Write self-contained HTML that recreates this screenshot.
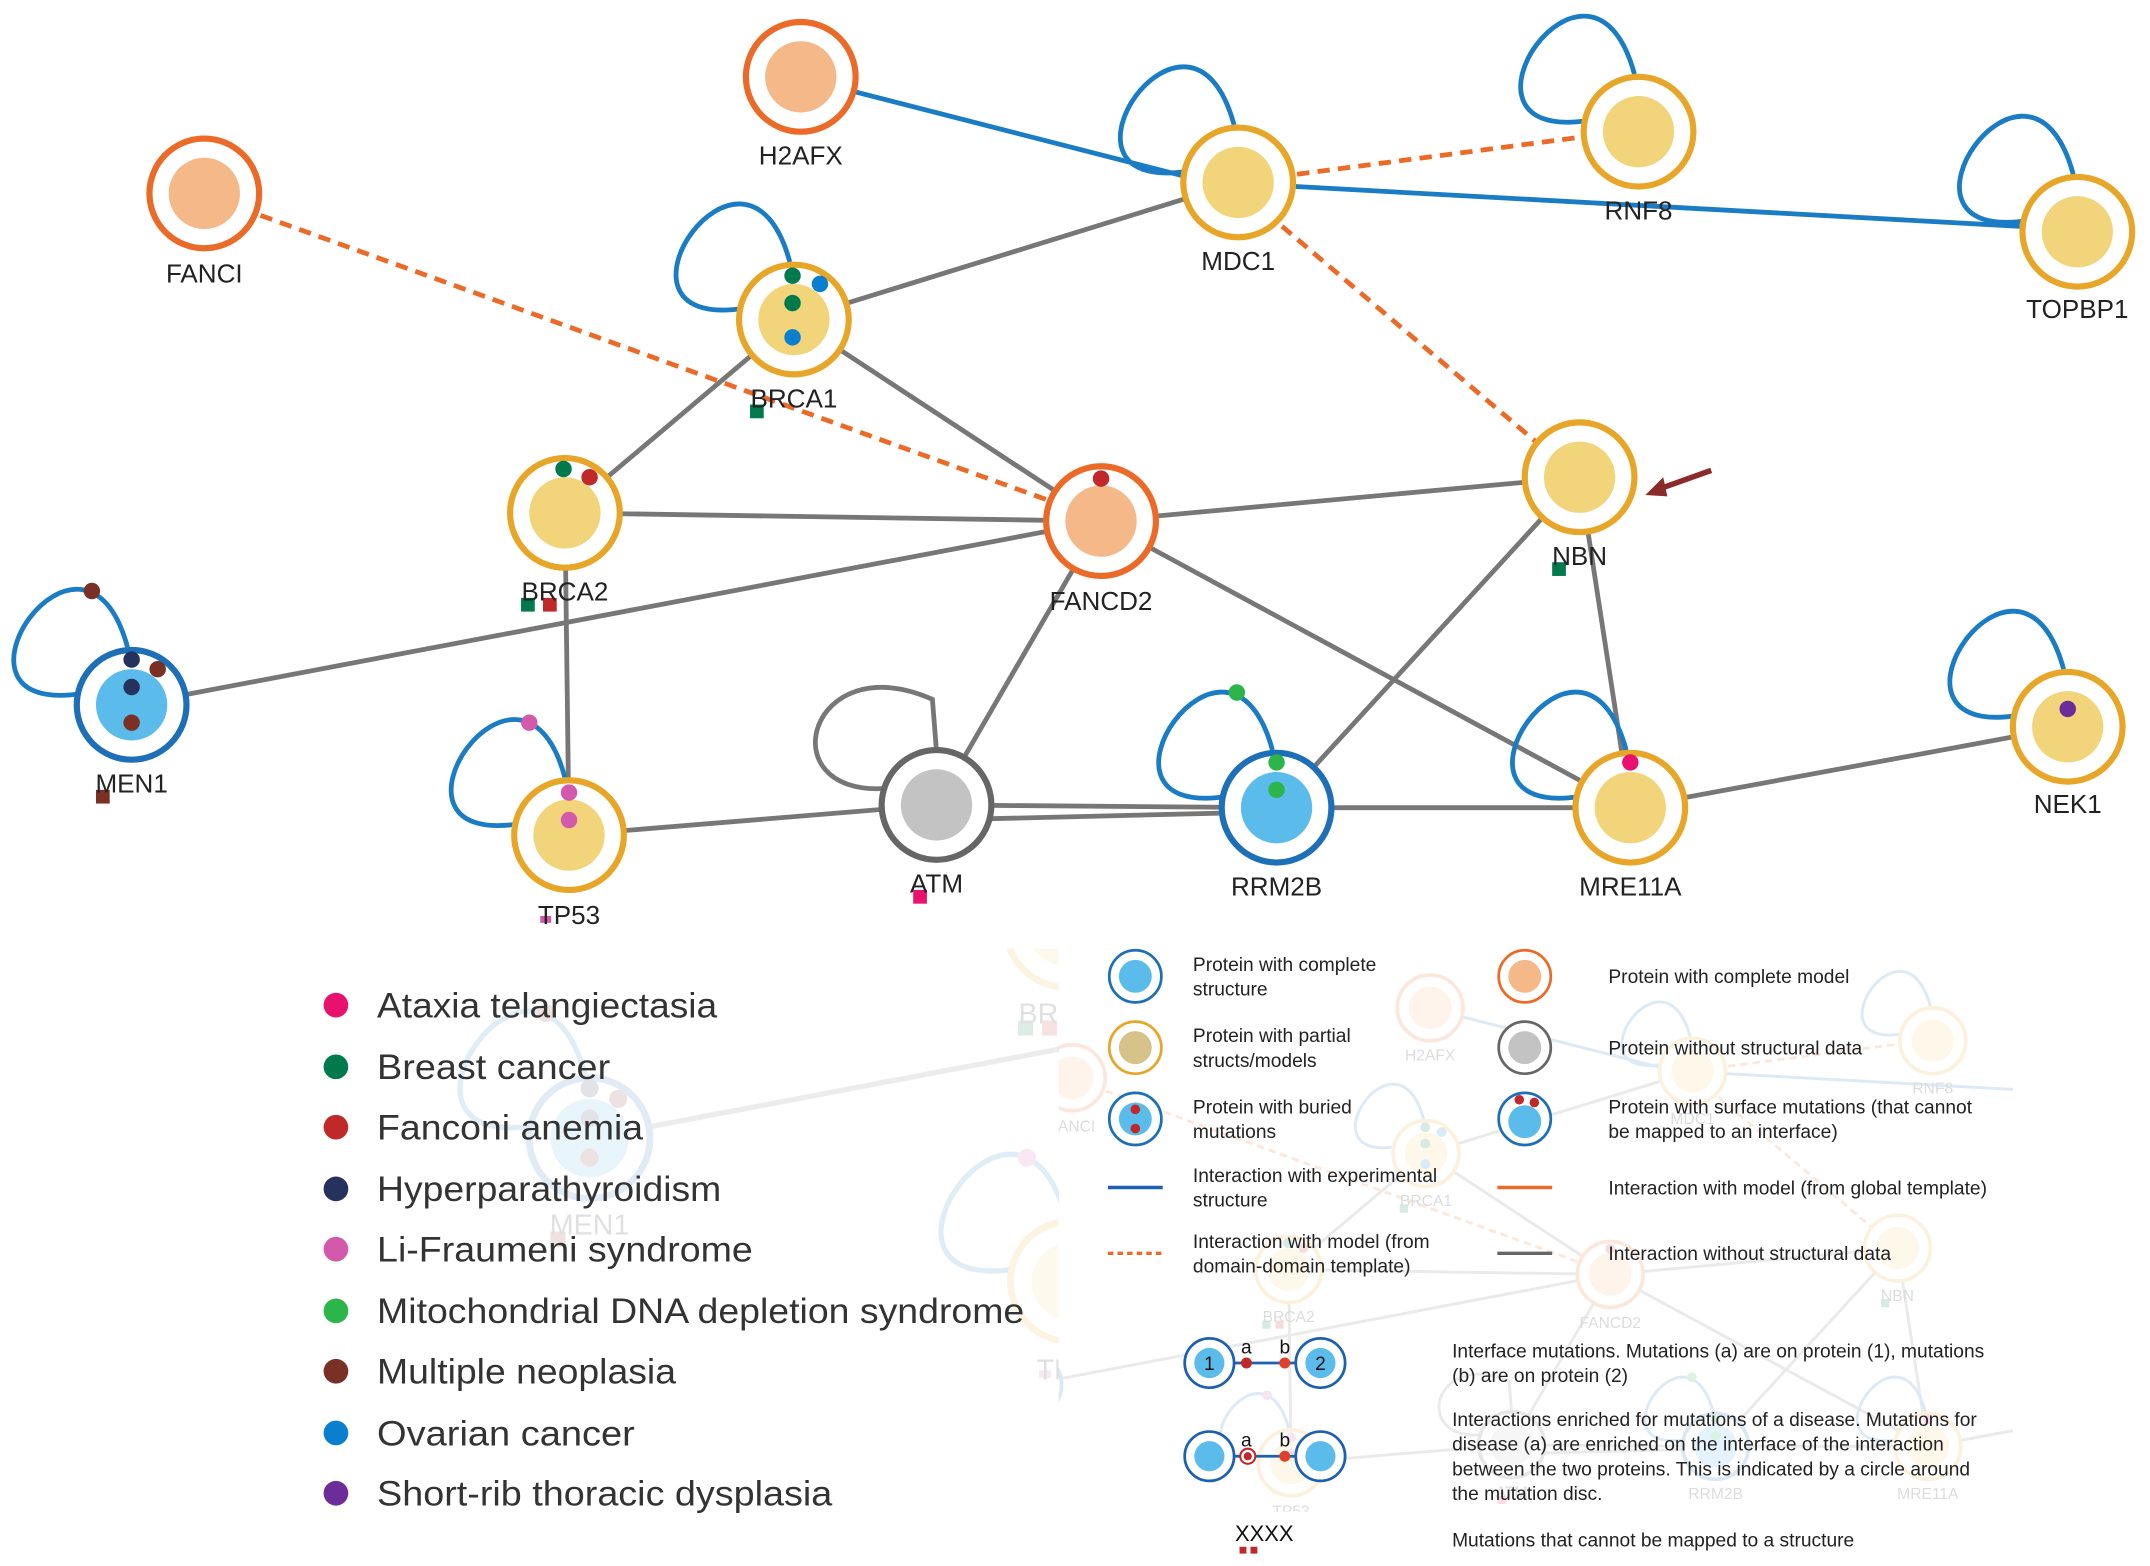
<!DOCTYPE html>
<html><head><meta charset="utf-8"><style>
html,body{margin:0;padding:0;background:#fff;}
svg{display:block;}
text{font-family:"Liberation Sans",Arial,sans-serif;}
</style></head><body>
<svg width="2150" height="1566" viewBox="0 0 1568 1142" xmlns="http://www.w3.org/2000/svg">
<defs>
<g id="loop"><path d="M-38,-8 C-150,8 -35,-160 -3,-42" fill="none" stroke="#1a7cc4" stroke-width="3.5"/></g>
<clipPath id="cl"><rect x="0" y="692" width="772" height="450"/></clipPath>
<clipPath id="cr"><rect x="772" y="692" width="696" height="410"/></clipPath>
<g id="net">
<g stroke="#777" stroke-width="3.5" fill="none">
<line x1="579" y1="233" x2="903" y2="133"/>
<line x1="579" y1="233" x2="412" y2="374"/>
<line x1="579" y1="233" x2="803" y2="380"/>
<line x1="412" y1="374" x2="803" y2="380"/>
<line x1="803" y1="380" x2="1152" y2="348"/>
<line x1="803" y1="380" x2="96" y2="514"/>
<line x1="412" y1="374" x2="415" y2="609"/>
<line x1="415" y1="609" x2="683" y2="587"/>
<line x1="683" y1="587" x2="803" y2="380"/>
<line x1="683" y1="587" x2="931" y2="589"/>
<line x1="683" y1="598" x2="931" y2="592"/>
<line x1="803" y1="380" x2="1189" y2="589"/>
<line x1="1152" y1="348" x2="931" y2="589"/>
<line x1="1152" y1="348" x2="1189" y2="589"/>
<line x1="931" y1="589" x2="1189" y2="589"/>
<line x1="1189" y1="589" x2="1508" y2="530"/>
<path d="M645,575 C560,580 590,470 680,510 L683,548"/>
</g>
<g stroke="#1a7cc4" stroke-width="3.5" fill="none">
<line x1="620" y1="66" x2="862" y2="128"/>
<line x1="945" y1="136" x2="1473" y2="165"/>
</g>
<g stroke="#ec6a28" stroke-width="3.5" stroke-dasharray="9,6" fill="none">
<line x1="190" y1="157" x2="765" y2="365"/>
<line x1="946" y1="127" x2="1153" y2="100"/>
<line x1="935" y1="165" x2="1120" y2="322"/>
</g>
<use href="#loop" transform="translate(903,133)"/>
<use href="#loop" transform="translate(1195,96)"/>
<use href="#loop" transform="translate(1515,169)"/>
<use href="#loop" transform="translate(579,233)"/>
<use href="#loop" transform="translate(96,514)"/>
<use href="#loop" transform="translate(415,609)"/>
<use href="#loop" transform="translate(931,589)"/>
<use href="#loop" transform="translate(1189,589)"/>
<use href="#loop" transform="translate(1508,530)"/>
<g stroke-width="4.5">
<circle cx="584" cy="56" r="40" fill="#fff" stroke="#ec6a28"/><circle cx="584" cy="56" r="26" fill="#f5b889"/>
<circle cx="149" cy="141" r="40" fill="#fff" stroke="#ec6a28"/><circle cx="149" cy="141" r="26" fill="#f5b889"/>
<circle cx="803" cy="380" r="40" fill="#fff" stroke="#ec6a28"/><circle cx="803" cy="380" r="26" fill="#f5b889"/>
<circle cx="903" cy="133" r="40" fill="#fff" stroke="#e8a628"/><circle cx="903" cy="133" r="26" fill="#f2d47a"/>
<circle cx="1195" cy="96" r="40" fill="#fff" stroke="#e8a628"/><circle cx="1195" cy="96" r="26" fill="#f2d47a"/>
<circle cx="1515" cy="169" r="40" fill="#fff" stroke="#e8a628"/><circle cx="1515" cy="169" r="26" fill="#f2d47a"/>
<circle cx="579" cy="233" r="40" fill="#fff" stroke="#e8a628"/><circle cx="579" cy="233" r="26" fill="#f2d47a"/>
<circle cx="1152" cy="348" r="40" fill="#fff" stroke="#e8a628"/><circle cx="1152" cy="348" r="26" fill="#f2d47a"/>
<circle cx="412" cy="374" r="40" fill="#fff" stroke="#e8a628"/><circle cx="412" cy="374" r="26" fill="#f2d47a"/>
<circle cx="1508" cy="530" r="40" fill="#fff" stroke="#e8a628"/><circle cx="1508" cy="530" r="26" fill="#f2d47a"/>
<circle cx="415" cy="609" r="40" fill="#fff" stroke="#e8a628"/><circle cx="415" cy="609" r="26" fill="#f2d47a"/>
<circle cx="1189" cy="589" r="40" fill="#fff" stroke="#e8a628"/><circle cx="1189" cy="589" r="26" fill="#f2d47a"/>
<circle cx="96" cy="514" r="40" fill="#fff" stroke="#1d6fb8"/><circle cx="96" cy="514" r="26" fill="#5bbbea"/>
<circle cx="931" cy="589" r="40" fill="#fff" stroke="#1d6fb8"/><circle cx="931" cy="589" r="26" fill="#5bbbea"/>
<circle cx="683" cy="587" r="40" fill="#fff" stroke="#666"/><circle cx="683" cy="587" r="26" fill="#c3c3c3"/>
</g>
<g>
<circle cx="578" cy="201" r="6" fill="#007a4d"/><circle cx="598" cy="207" r="6" fill="#0a7fd0"/>
<circle cx="578" cy="221" r="6" fill="#007a4d"/><circle cx="578" cy="246" r="6" fill="#0a7fd0"/>
<rect x="547" y="295" width="10" height="10" fill="#007a4d"/>
<circle cx="411" cy="342" r="6" fill="#007a4d"/><circle cx="430" cy="348" r="6" fill="#c0282a"/>
<rect x="380" y="436" width="10" height="10" fill="#007a4d"/><rect x="396" y="436" width="10" height="10" fill="#c0282a"/>
<circle cx="803" cy="349" r="6" fill="#c0282a"/>
<circle cx="67" cy="431" r="6" fill="#7a3025"/><circle cx="96" cy="481" r="6" fill="#26325e"/>
<circle cx="115" cy="488" r="6" fill="#7a3025"/><circle cx="96" cy="501" r="6" fill="#26325e"/>
<circle cx="96" cy="527" r="6" fill="#7a3025"/><rect x="70" y="576" width="10" height="10" fill="#7a3025"/>
<circle cx="386" cy="527" r="6" fill="#d35aaa"/><circle cx="415" cy="578" r="6" fill="#d35aaa"/>
<circle cx="415" cy="598" r="6" fill="#d35aaa"/><rect x="394" y="668" width="8" height="5" fill="#d35aaa"/>
<rect x="666" y="649" width="10" height="10" fill="#e8126e"/>
<circle cx="902" cy="505" r="6" fill="#2bb54a"/><circle cx="931" cy="556" r="6" fill="#2bb54a"/>
<circle cx="931" cy="576" r="6" fill="#2bb54a"/>
<circle cx="1189" cy="556" r="6" fill="#e8126e"/>
<circle cx="1508" cy="517" r="6" fill="#6a2d9a"/>
<rect x="1132" y="410" width="10" height="10" fill="#007a4d"/>
</g>
<g font-size="19" fill="#222" text-anchor="middle">
<text x="584" y="120">H2AFX</text>
<text x="149" y="206">FANCI</text>
<text x="903" y="197">MDC1</text>
<text x="1195" y="160">RNF8</text>
<text x="1515" y="232">TOPBP1</text>
<text x="579" y="297">BRCA1</text>
<text x="1152" y="412">NBN</text>
<text x="412" y="438">BRCA2</text>
<text x="803" y="445">FANCD2</text>
<text x="96" y="578">MEN1</text>
<text x="1508" y="593">NEK1</text>
<text x="415" y="674">TP53</text>
<text x="683" y="651">ATM</text>
<text x="931" y="653">RRM2B</text>
<text x="1189" y="653">MRE11A</text>
</g>
</g>
</defs>
<!-- faded background copies -->
<g clip-path="url(#cl)" opacity="0.14"><use href="#net" transform="translate(324.4,264.6) scale(1.1)"/></g>
<g clip-path="url(#cr)" opacity="0.16"><use href="#net" transform="translate(692.6,701.4) scale(0.6)"/></g>
<!-- main network -->
<use href="#net"/>
<!-- arrow -->
<line x1="1248" y1="343" x2="1206" y2="358" stroke="#8b2a2a" stroke-width="4"/>
<path d="M1200,361 L1213,348 L1216,362 Z" fill="#8b2a2a"/>
<!-- disease legend -->
<g font-size="26" fill="#333">
<circle cx="245" cy="733" r="9" fill="#e8126e"/><text x="275" y="742" textLength="248" lengthAdjust="spacingAndGlyphs">Ataxia telangiectasia</text>
<circle cx="245" cy="778" r="9" fill="#007a4d"/><text x="275" y="787" textLength="170" lengthAdjust="spacingAndGlyphs">Breast cancer</text>
<circle cx="245" cy="822" r="9" fill="#c0282a"/><text x="275" y="831" textLength="194" lengthAdjust="spacingAndGlyphs">Fanconi anemia</text>
<circle cx="245" cy="867" r="9" fill="#26325e"/><text x="275" y="876" textLength="251" lengthAdjust="spacingAndGlyphs">Hyperparathyroidism</text>
<circle cx="245" cy="911" r="9" fill="#d35aaa"/><text x="275" y="920" textLength="274" lengthAdjust="spacingAndGlyphs">Li-Fraumeni syndrome</text>
<circle cx="245" cy="956" r="9" fill="#2bb54a"/><text x="275" y="965" textLength="472" lengthAdjust="spacingAndGlyphs">Mitochondrial DNA depletion syndrome</text>
<circle cx="245" cy="1000" r="9" fill="#7a3025"/><text x="275" y="1009" textLength="218" lengthAdjust="spacingAndGlyphs">Multiple neoplasia</text>
<circle cx="245" cy="1045" r="9" fill="#0a7fd0"/><text x="275" y="1054" textLength="188" lengthAdjust="spacingAndGlyphs">Ovarian cancer</text>
<circle cx="245" cy="1089" r="9" fill="#6a2d9a"/><text x="275" y="1098" textLength="332" lengthAdjust="spacingAndGlyphs">Short-rib thoracic dysplasia</text>
</g>
<!-- structure legend -->
<g stroke-width="2">
<circle cx="828" cy="712" r="19" fill="#fff" stroke="#1d6fb8"/><circle cx="828" cy="712" r="12" fill="#5bbbea"/>
<circle cx="828" cy="764" r="19" fill="#fff" stroke="#e8a628"/><circle cx="828" cy="764" r="12" fill="#d6c38a"/>
<circle cx="828" cy="816" r="19" fill="#fff" stroke="#1d6fb8"/><circle cx="828" cy="816" r="12" fill="#5bbbea"/>
<circle cx="1112" cy="712" r="19" fill="#fff" stroke="#ec6a28"/><circle cx="1112" cy="712" r="12" fill="#f5b889"/>
<circle cx="1112" cy="764" r="19" fill="#fff" stroke="#666"/><circle cx="1112" cy="764" r="12" fill="#c3c3c3"/>
<circle cx="1112" cy="816" r="19" fill="#fff" stroke="#1d6fb8"/><circle cx="1112" cy="818" r="12" fill="#5bbbea"/>
</g>
<circle cx="828" cy="809" r="3.5" fill="#c0282a"/><circle cx="828" cy="823" r="3.5" fill="#c0282a"/>
<circle cx="1108" cy="802" r="3.5" fill="#c0282a"/><circle cx="1119" cy="804" r="3.5" fill="#c0282a"/>
<line x1="808" y1="866" x2="848" y2="866" stroke="#1d5fb0" stroke-width="2.5"/>
<line x1="808" y1="914" x2="848" y2="914" stroke="#ec6a28" stroke-width="2.5" stroke-dasharray="4,3"/>
<line x1="1092" y1="866" x2="1132" y2="866" stroke="#ec6a28" stroke-width="2.5"/>
<line x1="1092" y1="914" x2="1132" y2="914" stroke="#666" stroke-width="2.5"/>
<g font-size="14" fill="#222">
<text x="870" y="708">Protein with complete</text><text x="870" y="726">structure</text>
<text x="870" y="760">Protein with partial</text><text x="870" y="778">structs/models</text>
<text x="870" y="812">Protein with buried</text><text x="870" y="830">mutations</text>
<text x="870" y="862">Interaction with experimental</text><text x="870" y="880">structure</text>
<text x="870" y="910">Interaction with model (from</text><text x="870" y="928">domain-domain template)</text>
<text x="1173" y="717">Protein with complete model</text>
<text x="1173" y="769">Protein without structural data</text>
<text x="1173" y="812">Protein with surface mutations (that cannot</text><text x="1173" y="830">be mapped to an interface)</text>
<text x="1173" y="871">Interaction with model (from global template)</text>
<text x="1173" y="919">Interaction without structural data</text>
<text x="1059" y="990">Interface mutations. Mutations (a) are on protein (1), mutations</text>
<text x="1059" y="1008">(b) are on protein (2)</text>
<text x="1059" y="1040">Interactions enriched for mutations of a disease. Mutations for</text>
<text x="1059" y="1058">disease (a) are enriched on the interface of the interaction</text>
<text x="1059" y="1076">between the two proteins. This is indicated by a circle around</text>
<text x="1059" y="1094">the mutation disc.</text>
<text x="1059" y="1128">Mutations that cannot be mapped to a structure</text>
</g>
<g stroke="#1d5fb0" stroke-width="2">
<line x1="900" y1="994" x2="945" y2="994"/><line x1="900" y1="1062" x2="945" y2="1062"/>
<circle cx="882" cy="994" r="18" fill="#fff"/><circle cx="882" cy="994" r="11" fill="#5bbbea" stroke="none"/>
<circle cx="963" cy="994" r="18" fill="#fff"/><circle cx="963" cy="994" r="11" fill="#5bbbea" stroke="none"/>
<circle cx="882" cy="1062" r="18" fill="#fff"/><circle cx="882" cy="1062" r="11" fill="#5bbbea" stroke="none"/>
<circle cx="963" cy="1062" r="18" fill="#fff"/><circle cx="963" cy="1062" r="11" fill="#5bbbea" stroke="none"/>
</g>
<circle cx="909" cy="994" r="4" fill="#c0282a"/><circle cx="937" cy="994" r="4" fill="#e0402a"/>
<circle cx="910" cy="1062" r="5.5" fill="#fff" stroke="#c0282a" stroke-width="1.5"/><circle cx="910" cy="1062" r="3" fill="#c0282a"/>
<circle cx="937" cy="1062" r="4" fill="#e0402a"/>
<g font-size="14" fill="#111" text-anchor="middle">
<text x="882" y="999">1</text><text x="963" y="999">2</text>
<text x="909" y="987">a</text><text x="937" y="987">b</text>
<text x="909" y="1055">a</text><text x="937" y="1055">b</text>
<text x="922" y="1124" font-size="16">XXXX</text>
</g>
<rect x="904" y="1128" width="5" height="5" fill="#c0282a"/><rect x="912" y="1128" width="5" height="5" fill="#c0282a"/>
</svg>
</body></html>
